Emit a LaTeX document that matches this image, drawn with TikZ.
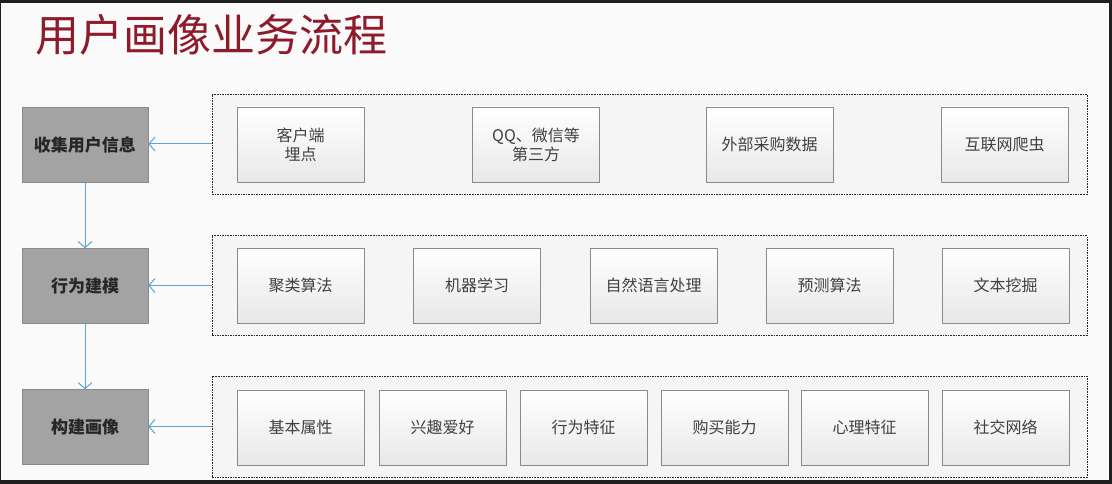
\documentclass[tikz,border=0pt]{standalone}
\usepackage{fontspec}
\setmainfont{Noto Sans CJK SC}
\usetikzlibrary{arrows.meta}
\definecolor{titlered}{HTML}{8E1B2C}
\definecolor{arrowblue}{HTML}{5BA3D5}
\definecolor{stepgray}{HTML}{A3A3A3}
\definecolor{framegray}{HTML}{8A8A8A}
\definecolor{pagebg}{HTML}{FAFAFB}
\begin{document}
\begin{tikzpicture}[x=1pt,y=-1pt,line join=round,line width=.6pt,font=\fontsize{16}{19}\selectfont,
	stepbox/.style={draw=framegray,fill=stepgray,minimum width=126pt,minimum height=75pt,inner sep=0pt,text=black!85,font=\fontsize{17}{20}\selectfont\bfseries},
	groupbox/.style={draw=black!85,fill=black!4,line width=.8pt,dash pattern=on 1.6pt off 1pt,minimum width=875pt,minimum height=100pt,inner sep=0pt},
	itembox/.style={draw=framegray,top color=white,bottom color=black!9,minimum width=127pt,minimum height=75pt,inner sep=0pt,text=black!75,align=center},
	flow/.style={draw=arrowblue,line width=1pt,-{Straight Barb[length=6pt,width=14pt]}}]
	% background and frame
	\useasboundingbox (0,0) rectangle (1112,484);
	\fill[black!88] (0,0) rectangle (1112,484);
	\fill[pagebg] (1,3) rectangle (1109,480);
	% title
	\node[anchor=base west,inner sep=0pt,text=titlered,font=\fontsize{44}{50}\selectfont] (T) at (35,52) {用户画像业务流程};
	% steps on the left
	\node[stepbox] (S1) at (85,145) {收集用户信息};
	\node[stepbox] (S2) at (85,286) {行为建模};
	\node[stepbox] (S3) at (85,427) {构建画像};
	% dashed groups
	\node[groupbox] (G1) at (649.5,144) {};
	\node[groupbox] (G2) at (649.5,285.5) {};
	\node[groupbox,minimum height=101pt] (G3) at (649.5,426.5) {};
	% row 1
	\node[itembox] (A1) at (300.5,144.5) {客户端\\埋点};
	\node[itembox] (A2) at (536,144.5) {QQ、微信等\\第三方};
	\node[itembox] (A3) at (769.5,144.5) {外部采购数据};
	\node[itembox] (A4) at (1004.5,144.5) {互联网爬虫};
	% row 2
	\node[itembox] (B1) at (300.5,285.5) {聚类算法};
	\node[itembox] (B2) at (477,285.5) {机器学习};
	\node[itembox] (B3) at (653.5,285.5) {自然语言处理};
	\node[itembox] (B4) at (829.5,285.5) {预测算法};
	\node[itembox] (B5) at (1005.5,285.5) {文本挖掘};
	% row 3
	\node[itembox] (C1) at (300.5,427.5) {基本属性};
	\node[itembox] (C2) at (442.5,427.5) {兴趣爱好};
	\node[itembox] (C3) at (583.5,427.5) {行为特征};
	\node[itembox] (C4) at (724.5,427.5) {购买能力};
	\node[itembox] (C5) at (864.5,427.5) {心理特征};
	\node[itembox] (C6) at (1005.5,427.5) {社交网络};
	% connectors
	\draw[flow] (G1.west) -- (S1.east |- G1.west);
	\draw[flow] (G2.west) -- (S2.east |- G2.west);
	\draw[flow] (G3.west) -- (S3.east |- G3.west);
	\draw[flow] (S1.south) -- (S2.north);
	\draw[flow] (S2.south) -- (S3.north);
\end{tikzpicture}
\end{document}
